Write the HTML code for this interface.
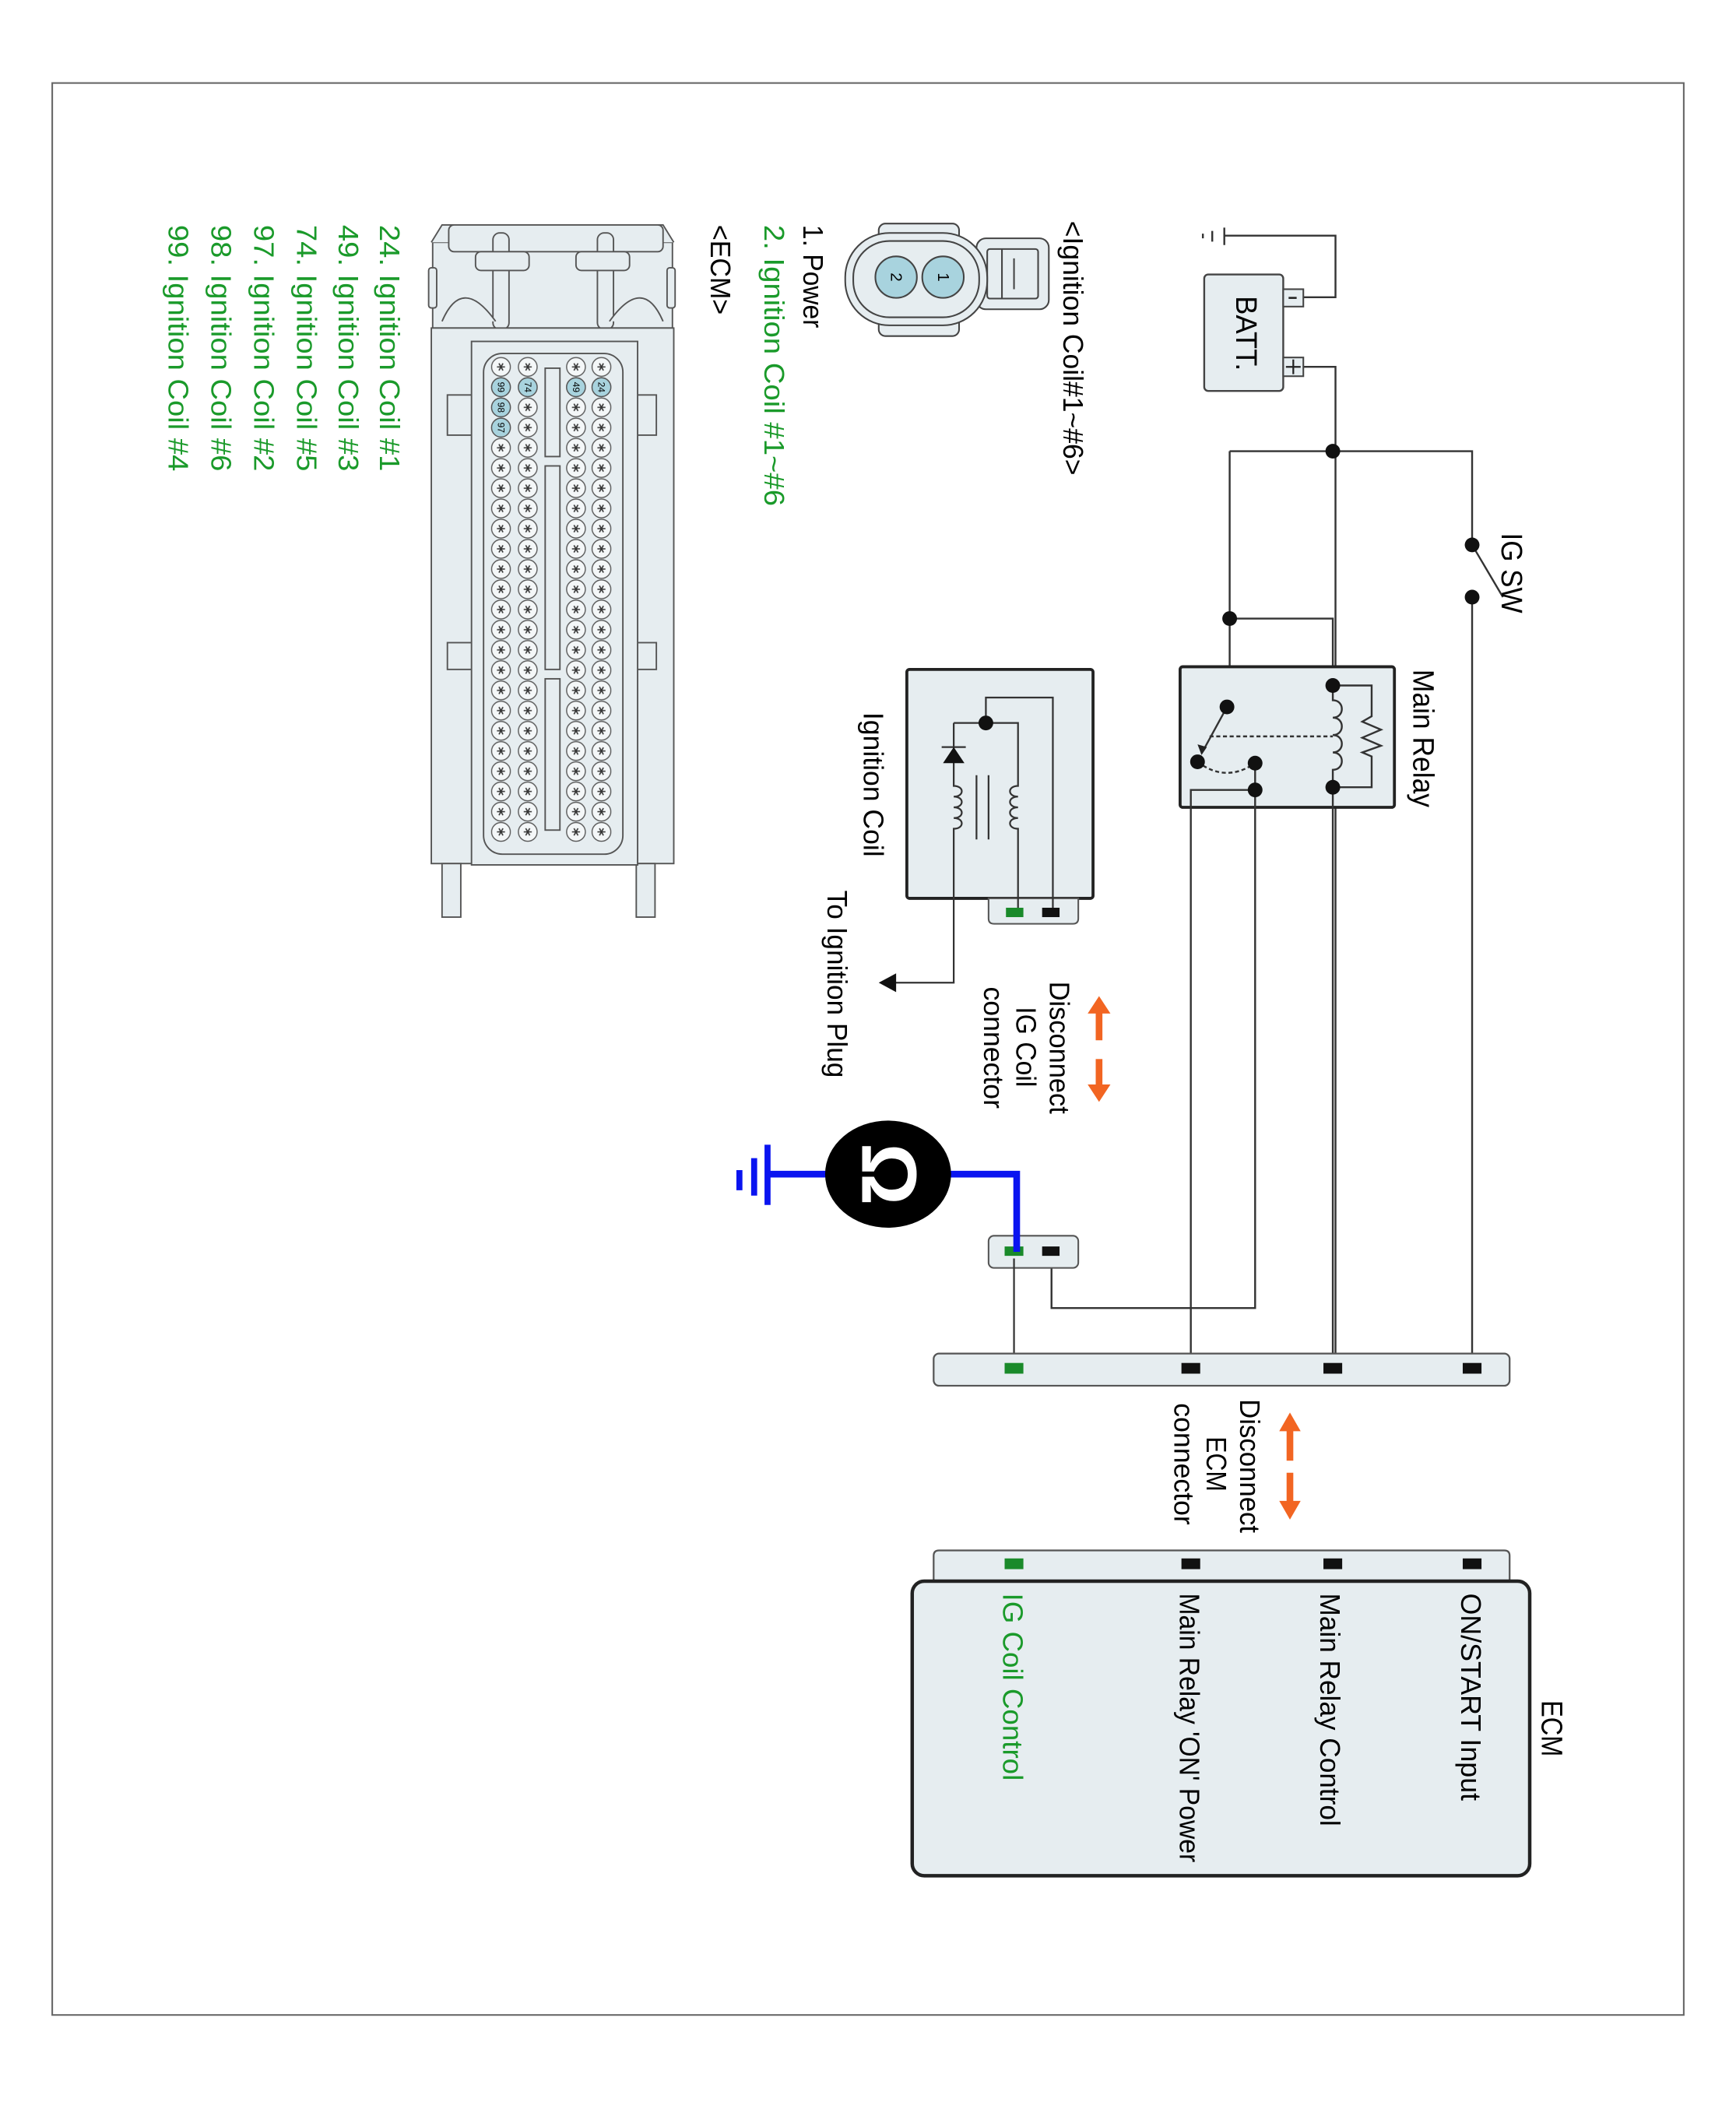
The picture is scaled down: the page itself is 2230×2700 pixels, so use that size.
<!DOCTYPE html>
<html><head><meta charset="utf-8"><style>
html,body{margin:0;padding:0;background:#fff;}
svg{display:block;}
text{font-family:"Liberation Sans",Arial,sans-serif;}
</style></head><body>
<svg width="2230" height="2700" viewBox="0 0 1296 1570" preserveAspectRatio="none" xmlns="http://www.w3.org/2000/svg">
<defs>
<pattern id="pin" patternUnits="userSpaceOnUse" width="20" height="15.1">
<circle cx="10" cy="7.55" r="7" fill="#f4f7f8" stroke="#555" stroke-width="0.8"/>
<path d="M7 7.55H13M8.5 4.9L11.5 10.2M11.5 4.9L8.5 10.2" stroke="#333" stroke-width="0.9"/>
</pattern>
</defs>
<rect x="39" y="62" width="1218" height="1443" fill="none" stroke="#666" stroke-width="1.2"/>

<!-- ===== Battery ===== -->
<g stroke="#333" stroke-width="1.4" fill="none">
<path d="M973 222H997V176H914"/>
<path d="M914 170V183M905 172.5V180.5M898 174.5V178"/>
<path d="M973 274H997V1022"/>
<path d="M918 337H1099V407"/>
<path d="M918 337V527"/>
<path d="M918 462H995V512"/>
<path d="M1099 446V1022"/>
<path d="M1099 407L1122 446"/>
</g>
<rect x="899" y="205" width="59" height="87" rx="3" fill="#e6edf0" stroke="#444" stroke-width="1.4"/>
<rect x="958" y="216" width="15" height="13" fill="#e6edf0" stroke="#444" stroke-width="1.2"/>
<rect x="958" y="267" width="15" height="14" fill="#e6edf0" stroke="#444" stroke-width="1.2"/>
<path d="M962 222.5H968" stroke="#222" stroke-width="1.5"/>
<path d="M960 274H971M965.5 268.5V279.5" stroke="#222" stroke-width="1.3"/>
<text transform="translate(930,221) rotate(90)" font-size="22" dominant-baseline="central" textLength="56" lengthAdjust="spacingAndGlyphs">BATT.</text>
<circle cx="995" cy="337" r="5.5" fill="#111"/>
<circle cx="1099" cy="407" r="5.5" fill="#111"/>
<circle cx="1099" cy="446" r="5.5" fill="#111"/>
<circle cx="918" cy="462" r="5.5" fill="#111"/>
<text transform="translate(1128,398) rotate(90)" font-size="22" dominant-baseline="central" textLength="60" lengthAdjust="spacingAndGlyphs">IG SW</text>

<!-- ===== Main relay ===== -->
<rect x="881" y="498" width="160" height="105" rx="2" fill="#e6edf0" stroke="#222" stroke-width="2.2"/>
<text transform="translate(1062,500) rotate(90)" font-size="22" dominant-baseline="central" textLength="103" lengthAdjust="spacingAndGlyphs">Main Relay</text>
<g stroke="#333" stroke-width="1.4" fill="none">
<path d="M995 512H1024V535L1017 539L1031 545L1017 551L1031 557L1017 562L1024 565V588H995"/>
<path d="M995 512V523C1004 523 1004 536 995 536C1004 536 1004 549 995 549C1004 549 1004 562 995 562C1004 562 1004 575 995 575V588"/>
<path d="M903 550H995" stroke-dasharray="3,2"/>
<path d="M916 528L898 561"/>
<path d="M894 569Q915 585 937 570" stroke-dasharray="3,2"/>
<path d="M937 570V977H785V935"/>
<path d="M889 1022V590H937"/>
<path d="M995 588V1022"/>
</g>
<path d="M897 564L894 556L901 558Z" fill="#222"/>
<circle cx="916" cy="528" r="5.5" fill="#111"/>
<circle cx="894" cy="569" r="5.5" fill="#111"/>
<circle cx="937" cy="570" r="5.5" fill="#111"/>
<circle cx="937" cy="590" r="5.5" fill="#111"/>
<circle cx="995" cy="512" r="5.5" fill="#111"/>
<circle cx="995" cy="588" r="5.5" fill="#111"/>

<!-- ===== Ignition coil ===== -->
<rect x="677" y="500" width="139" height="171" rx="2" fill="#e6edf0" stroke="#222" stroke-width="2.2"/>
<path d="M738 671H805V686Q805 690 801 690H742Q738 690 738 686Z" fill="#e6edf0" stroke="#555" stroke-width="1.2"/>
<rect x="751" y="678" width="13" height="7" fill="#1a8a2a"/>
<rect x="778" y="678" width="13" height="7" fill="#111"/>
<g stroke="#333" stroke-width="1.3" fill="none">
<path d="M786 678V521H736V540"/>
<path d="M712 540H760V587C752 587 752 595 760 595C752 595 752 603 760 603C752 603 752 611 760 611C752 611 752 619 760 619V678"/>
<path d="M712 540V587C720 587 720 595 712 595C720 595 720 603 712 603C720 603 720 611 712 611C720 611 720 619 712 619V734H668"/>
<path d="M729 579V627M738 579V627"/>
<path d="M703 558H721"/>
</g>
<path d="M712 558L704 570H720Z" fill="#111"/>
<circle cx="736" cy="540" r="5.5" fill="#111"/>
<path d="M656 734L669 727V741Z" fill="#111"/>
<text transform="translate(652,532) rotate(90)" font-size="21" dominant-baseline="central" textLength="108" lengthAdjust="spacingAndGlyphs">Ignition Coil</text>
<text transform="translate(625,665) rotate(90)" font-size="21" dominant-baseline="central" textLength="140" lengthAdjust="spacingAndGlyphs">To Ignition Plug</text>

<!-- disconnect IG coil -->
<g fill="#f26522">
<rect x="818" y="755" width="5" height="22"/>
<path d="M820.5 744L812 757H829Z"/>
<rect x="818" y="791" width="5" height="22"/>
<path d="M820.5 823L812 810H829Z"/>
<rect x="960.5" y="1066" width="5" height="25"/>
<path d="M963 1055L955 1069H971Z"/>
<rect x="960.5" y="1100" width="5" height="24"/>
<path d="M963 1135L955 1121H971Z"/>
</g>
<text transform="translate(791,733) rotate(90)" font-size="21" dominant-baseline="central" textLength="99" lengthAdjust="spacingAndGlyphs">Disconnect</text>
<text transform="translate(766,752) rotate(90)" font-size="21" dominant-baseline="central" textLength="60" lengthAdjust="spacingAndGlyphs">IG Coil</text>
<text transform="translate(742,737) rotate(90)" font-size="21" dominant-baseline="central" textLength="91" lengthAdjust="spacingAndGlyphs">connector</text>
<text transform="translate(933,1045) rotate(90)" font-size="21" dominant-baseline="central" textLength="100" lengthAdjust="spacingAndGlyphs">Disconnect</text>
<text transform="translate(908,1073) rotate(90)" font-size="21" dominant-baseline="central" textLength="41" lengthAdjust="spacingAndGlyphs">ECM</text>
<text transform="translate(884,1048) rotate(90)" font-size="21" dominant-baseline="central" textLength="91" lengthAdjust="spacingAndGlyphs">connector</text>

<!-- ===== Ohmmeter ===== -->
<rect x="738" y="923" width="67" height="24" rx="4" fill="#e6edf0" stroke="#555" stroke-width="1.2"/>
<path d="M757 940V1022" stroke="#333" stroke-width="1.3"/>
<rect x="750" y="931" width="14" height="7" fill="#1a8a2a"/>
<rect x="778" y="931" width="13" height="7" fill="#111"/>
<path d="M759 935V877H705M620 877H573" stroke="#0a14f0" stroke-width="5" fill="none"/>
<path d="M573 855V900M563 865V893M552 874V889" stroke="#0a14f0" stroke-width="4.5"/>
<ellipse cx="663" cy="877" rx="47" ry="40" fill="#000"/>
<text transform="translate(663,877) rotate(90)" font-size="58" font-weight="bold" fill="#fff" text-anchor="middle" dominant-baseline="central">Ω</text>

<!-- ===== Harness connectors ===== -->
<rect x="697" y="1011" width="430" height="24" rx="4" fill="#e6edf0" stroke="#555" stroke-width="1.3"/>
<rect x="750" y="1018" width="14" height="8" fill="#1a8a2a"/>
<rect x="882" y="1018" width="14" height="8" fill="#111"/>
<rect x="988" y="1018" width="14" height="8" fill="#111"/>
<rect x="1092" y="1018" width="14" height="8" fill="#111"/>
<path d="M697 1182V1162Q697 1158 701 1158H1123Q1127 1158 1127 1162V1182" fill="#e6edf0" stroke="#555" stroke-width="1.3"/>
<rect x="750" y="1164" width="14" height="8" fill="#1a8a2a"/>
<rect x="882" y="1164" width="14" height="8" fill="#111"/>
<rect x="988" y="1164" width="14" height="8" fill="#111"/>
<rect x="1092" y="1164" width="14" height="8" fill="#111"/>
<rect x="681" y="1181" width="461" height="220" rx="9" fill="#e6edf0" stroke="#222" stroke-width="2.6"/>
<text transform="translate(1158,1270) rotate(90)" font-size="22" dominant-baseline="central" textLength="42" lengthAdjust="spacingAndGlyphs">ECM</text>
<text transform="translate(1098,1190) rotate(90)" font-size="21" dominant-baseline="central" textLength="155" lengthAdjust="spacingAndGlyphs">ON/START Input</text>
<text transform="translate(993,1190) rotate(90)" font-size="21" dominant-baseline="central" textLength="174" lengthAdjust="spacingAndGlyphs">Main Relay Control</text>
<text transform="translate(888,1190) rotate(90)" font-size="21" dominant-baseline="central" textLength="201" lengthAdjust="spacingAndGlyphs">Main Relay 'ON' Power</text>
<text transform="translate(756,1190) rotate(90)" font-size="21" fill="#1a9a2a" dominant-baseline="central" textLength="140" lengthAdjust="spacingAndGlyphs">IG Coil  Control</text>

<!-- ===== IG coil connector picture ===== -->
<g stroke="#444" stroke-width="1.2" fill="#e6edf0">
<rect x="656" y="167" width="60" height="84" rx="5"/>
<rect x="729" y="178" width="54" height="53" rx="7"/>
<rect x="737" y="186" width="38" height="37" rx="2"/>
<path d="M748 186V223M757 193V216"/>
<rect x="631" y="174" width="106" height="69" rx="33"/>
<rect x="637" y="180" width="94" height="57" rx="27"/>
<circle cx="704" cy="207" r="15.5" fill="#a8d3de"/>
<circle cx="669" cy="207" r="15.5" fill="#a8d3de"/>
</g>
<text transform="translate(704,207) rotate(90)" font-size="12" text-anchor="middle" dominant-baseline="central">1</text>
<text transform="translate(669,207) rotate(90)" font-size="12" text-anchor="middle" dominant-baseline="central">2</text>
<text transform="translate(801,165) rotate(90)" font-size="21" dominant-baseline="central" textLength="190" lengthAdjust="spacingAndGlyphs">&lt;Ignition Coil#1~#6&gt;</text>
<text transform="translate(607,168) rotate(90)" font-size="21" dominant-baseline="central" textLength="77" lengthAdjust="spacingAndGlyphs">1. Power</text>
<text transform="translate(578,168) rotate(90)" font-size="21" fill="#1a9a2a" dominant-baseline="central" textLength="210" lengthAdjust="spacingAndGlyphs">2. Ignition Coil #1~#6</text>
<text transform="translate(538,168) rotate(90)" font-size="21" dominant-baseline="central" textLength="67" lengthAdjust="spacingAndGlyphs">&lt;ECM&gt;</text>

<!-- ===== ECM connector picture ===== -->
<g stroke="#555" stroke-width="1.1" fill="#e6edf0">
<rect x="323" y="181" width="179" height="64"/>
<path d="M322 181L330 168H495L503 181"/>
<rect x="335" y="168" width="160" height="20" rx="4"/>
<rect x="368" y="174" width="12" height="72" rx="5"/>
<rect x="446" y="174" width="12" height="72" rx="5"/>
<rect x="355" y="188" width="40" height="14" rx="4"/>
<rect x="430" y="188" width="40" height="14" rx="4"/>
<path d="M330 240Q345 205 370 240M455 240Q480 205 495 240"/>
<rect x="320" y="200" width="6" height="30" rx="2"/>
<rect x="498" y="200" width="6" height="30" rx="2"/>
<rect x="322" y="245" width="181" height="400"/>
<rect x="330" y="645" width="14" height="40"/>
<rect x="475" y="645" width="14" height="40"/>
<rect x="334" y="295" width="20" height="30"/>
<rect x="470" y="295" width="20" height="30"/>
<rect x="334" y="480" width="20" height="20"/>
<rect x="470" y="480" width="20" height="20"/>
<rect x="352" y="255" width="124" height="391"/>
<rect x="361" y="264" width="104" height="374" rx="14"/>
<rect x="407" y="275" width="11" height="66"/>
<rect x="407" y="348" width="11" height="152"/>
<rect x="407" y="507" width="11" height="113"/>
</g>
<g transform="translate(364,266.5)"><rect width="20" height="362.4" fill="url(#pin)"/></g>
<g transform="translate(384,266.5)"><rect width="20" height="362.4" fill="url(#pin)"/></g>
<g transform="translate(420,266.5)"><rect width="20" height="362.4" fill="url(#pin)"/></g>
<g transform="translate(439,266.5)"><rect width="20" height="362.4" fill="url(#pin)"/></g>
<g fill="#a8d3de" stroke="#555" stroke-width="0.8">
<circle cx="449" cy="289.2" r="7"/><circle cx="430" cy="289.2" r="7"/><circle cx="394" cy="289.2" r="7"/>
<circle cx="374" cy="289.2" r="7"/><circle cx="374" cy="304.3" r="7"/><circle cx="374" cy="319.4" r="7"/>
</g>
<g font-size="7" text-anchor="middle" dominant-baseline="central">
<text transform="translate(449,289.2) rotate(90)">24</text>
<text transform="translate(430,289.2) rotate(90)">49</text>
<text transform="translate(394,289.2) rotate(90)">74</text>
<text transform="translate(374,289.2) rotate(90)">99</text>
<text transform="translate(374,304.3) rotate(90)">98</text>
<text transform="translate(374,319.4) rotate(90)">97</text>
</g>

<!-- ===== green list ===== -->
<g fill="#1a9a2a" font-size="21" dominant-baseline="central">
<text transform="translate(291,168) rotate(90)" textLength="184" lengthAdjust="spacingAndGlyphs">24. Ignition Coil #1</text>
<text transform="translate(260,168) rotate(90)" textLength="184" lengthAdjust="spacingAndGlyphs">49. Ignition Coil #3</text>
<text transform="translate(229,168) rotate(90)" textLength="184" lengthAdjust="spacingAndGlyphs">74. Ignition Coil #5</text>
<text transform="translate(197,168) rotate(90)" textLength="184" lengthAdjust="spacingAndGlyphs">97. Ignition Coil #2</text>
<text transform="translate(165,168) rotate(90)" textLength="184" lengthAdjust="spacingAndGlyphs">98. Ignition Coil #6</text>
<text transform="translate(133,168) rotate(90)" textLength="184" lengthAdjust="spacingAndGlyphs">99. Ignition Coil #4</text>
</g>
</svg>
</body></html>
